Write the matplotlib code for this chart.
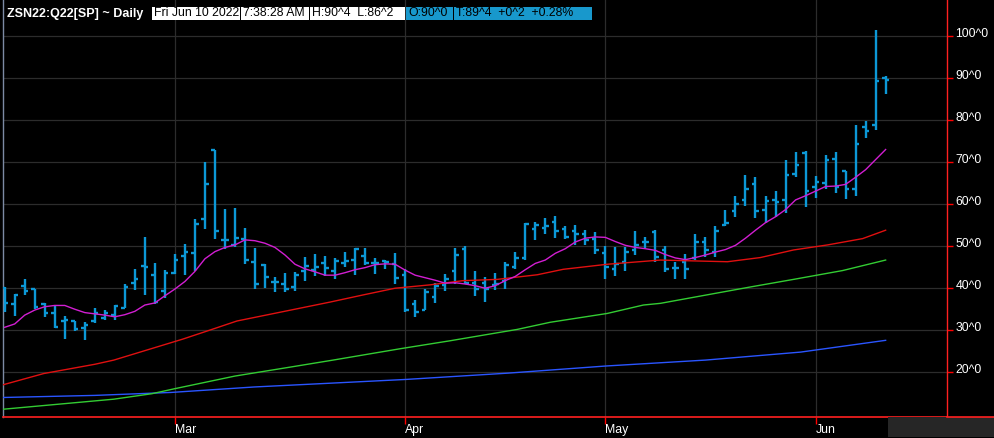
import matplotlib
matplotlib.use('Agg')
import matplotlib.pyplot as plt
import matplotlib.transforms as mtransforms
import numpy as np
import pandas as pd
from matplotlib.patches import Rectangle
from matplotlib.lines import Line2D

# ---------------- data ----------------
holidays = pd.to_datetime(['2022-02-21', '2022-04-15', '2022-05-30'])
dates = pd.bdate_range('2022-02-03', '2022-06-10')
dates = dates[~dates.isin(holidays)]

opens = [40.0, 36.3, 40.5, 39.9, 36.2, 34.0, 32.1, 32.2, 30.6, 32.2,
         32.9, 33.7, 35.4, 41.3, 45.3, 43.1, 39.4, 43.7, 47.7, 48.4,
         56.4, 72.8, 51.5, 50.2, 51.7, 46.2, 45.6, 41.4, 41.0, 40.4,
         44.1, 44.4, 45.9, 44.0, 45.9, 46.7, 47.6, 46.1, 46.4, 45.7,
         43.1, 36.3, 34.9, 37.9, 40.7, 44.2, 49.3, 41.3, 41.3, 40.7,
         41.8, 45.0, 47.1, 54.0, 54.4, 55.8, 54.0, 53.6, 52.9, 51.8,
         48.3, 44.6, 46.2, 49.2, 51.0, 53.4, 49.0, 44.7, 46.3, 47.2,
         51.0, 48.6, 55.0, 58.4, 61.1, 64.9, 58.6, 61.0, 61.0, 67.1,
         72.1, 64.1, 65.0, 70.7, 67.9, 63.7, 78.3, 78.9, 90.0]
highs = [40.2, 38.7, 42.1, 39.9, 36.6, 35.8, 33.3, 32.2, 32.0, 35.2,
         34.9, 36.1, 40.9, 44.5, 52.1, 46.0, 44.3, 48.1, 50.5, 56.4,
         70.0, 72.8, 58.8, 59.0, 54.3, 49.6, 45.7, 42.7, 43.7, 43.9,
         47.5, 48.1, 47.6, 47.1, 48.6, 49.5, 49.5, 47.3, 46.6, 48.3,
         44.5, 37.1, 39.8, 41.3, 43.5, 49.6, 50.0, 44.0, 42.6, 43.6,
         46.2, 48.6, 55.4, 55.7, 56.7, 57.1, 54.8, 55.1, 53.8, 53.3,
         50.0, 49.7, 49.7, 53.7, 52.1, 53.9, 50.1, 46.2, 48.2, 52.9,
         52.1, 54.8, 58.7, 61.9, 66.9, 66.4, 61.9, 63.1, 70.5, 72.4,
         72.6, 66.7, 71.7, 72.4, 68.0, 78.8, 79.9, 101.4, 90.5]
lows = [34.4, 33.4, 38.5, 35.0, 33.2, 30.6, 27.9, 29.9, 27.7, 31.7,
        32.5, 32.4, 35.2, 39.6, 38.3, 36.2, 37.6, 43.3, 43.1, 44.0,
        54.0, 51.8, 49.4, 49.9, 45.7, 39.8, 40.0, 39.2, 39.2, 39.4,
        41.8, 42.9, 42.9, 42.1, 45.1, 43.1, 45.6, 43.3, 44.6, 41.1,
        34.4, 33.2, 34.7, 36.5, 39.4, 41.0, 41.0, 38.2, 36.7, 39.6,
        39.9, 44.6, 46.8, 51.4, 52.9, 52.0, 51.7, 50.4, 50.4, 48.2,
        42.3, 42.9, 44.0, 48.0, 49.5, 46.3, 43.9, 42.2, 42.3, 46.7,
        47.5, 47.5, 54.7, 57.0, 59.6, 56.6, 55.5, 57.0, 57.8, 66.5,
        59.4, 61.5, 63.7, 62.7, 61.3, 62.0, 75.8, 77.7, 86.25]
closes = [36.6, 38.3, 39.3, 35.5, 34.2, 30.8, 32.4, 30.2, 31.2, 34.2,
          34.0, 35.7, 40.2, 42.3, 45.0, 36.8, 43.7, 46.7, 48.7, 55.3,
          64.9, 53.7, 51.5, 51.9, 46.7, 41.0, 42.7, 41.4, 39.8, 43.2,
          45.2, 45.1, 44.9, 46.5, 46.4, 49.3, 45.9, 45.9, 46.3, 42.5,
          34.9, 34.4, 39.1, 40.5, 42.1, 48.0, 41.3, 39.9, 39.9, 40.9,
          45.5, 47.1, 55.2, 55.0, 54.8, 53.6, 52.2, 52.8, 51.5, 49.0,
          45.1, 45.7, 48.5, 50.2, 51.0, 47.5, 44.6, 44.7, 44.6, 51.0,
          49.2, 53.7, 55.6, 60.1, 63.5, 58.3, 60.7, 60.4, 66.9, 69.3,
          63.1, 65.3, 70.6, 64.0, 63.6, 74.4, 77.4, 89.25, 89.5]

# short moving average (magenta), one value per bar
ma_short = [30.7, 31.5, 33.6, 34.8, 35.6, 35.9, 35.9, 35.0, 34.2, 33.9,
            33.6, 33.2, 33.7, 34.5, 36.0, 36.5, 38.2, 39.8, 41.6, 44.0,
            47.0, 48.7, 49.7, 50.3, 51.5, 51.3, 50.7, 49.7, 47.9, 45.7,
            44.6, 43.9, 43.1, 43.1, 43.7, 44.4, 44.9, 45.6, 45.8, 45.7,
            44.3, 43.1, 42.5, 41.9, 41.2, 41.3, 41.0, 40.6, 40.0, 40.6,
            41.8, 42.8, 44.4, 45.9, 46.7, 48.3, 49.4, 51.0, 51.9, 52.2,
            52.1, 51.1, 50.2, 49.7, 49.4, 49.0, 48.0, 47.2, 46.8, 47.3,
            47.9, 48.6, 49.2, 50.2, 51.9, 53.8, 55.6, 57.0, 58.7, 61.0,
            62.0, 63.1, 64.2, 64.3, 64.7, 66.4, 68.2, 70.6, 73.0]

# longer moving averages, read at sampled bar positions
ma_red_idx = [-0.2, 3.9, 9.0, 10.9, 17.8, 20.2, 23.2, 32.5, 35.8, 39.0, 42.5,
              45.8, 49.2, 53.2, 55.8, 60.2, 65.5, 68.8, 72.2, 75.5, 78.8,
              82.2, 85.7, 88.0]
ma_red = [17.0, 19.7, 21.9, 22.9, 27.9, 29.8, 32.2, 36.7, 38.4, 40.0, 40.8,
          41.8, 42.1, 43.2, 44.5, 45.7, 46.7, 46.5, 46.3, 47.3, 49.1,
          50.3, 51.8, 53.8]

ma_green_idx = [-0.2, 10.9, 14.7, 17.0, 23.0, 28.7, 32.8, 39.5, 44.5, 51.2,
                54.5, 60.2, 63.8, 65.5, 74.5, 78.8, 83.7, 88.0]
ma_green = [11.2, 13.6, 14.9, 16.1, 19.1, 21.3, 22.9, 25.6, 27.5, 30.2,
            31.9, 34.0, 36.0, 36.4, 40.3, 42.1, 44.2, 46.7]

ma_blue_idx = [-0.2, 9.0, 16.6, 24.9, 40.1, 50.3, 60.1, 70.0, 79.5, 88.0]
ma_blue = [14.0, 14.5, 15.2, 16.5, 18.3, 19.8, 21.5, 22.9, 24.8, 27.6]

yticks = [20, 30, 40, 50, 60, 70, 80, 90, 100]
ytick_labels = [f"{v}^0" for v in yticks]

title = "ZSN22:Q22[SP] ~ Daily"
info_white = ["Fri Jun 10 2022", "7:38:28 AM", "H:90^4  L:86^2"]
info_blue = ["O:90^0", "T:89^4  +0^2  +0.28%"]

# ---------------- figure ----------------
W, H = 994, 438
fig = plt.figure(figsize=(W / 100, H / 100), dpi=100, facecolor='black')
ax = fig.add_axes([3 / W, (H - 417) / H, (947 - 3) / W, 417 / H])
ax.set_facecolor('black')

x = np.arange(len(dates))
bar_col = '#0c98d6'
lw = 1.7
ax.vlines(x, lows, highs, color=bar_col, lw=lw, capstyle='butt', zorder=3)
ax.hlines(opens, x - 0.36, x, color=bar_col, lw=lw, capstyle='butt', zorder=3)
ax.hlines(closes, x, x + 0.36, color=bar_col, lw=lw, capstyle='butt', zorder=3)

ax.plot(ma_blue_idx, ma_blue, color='#2a55ff', lw=1.0, zorder=4)
ax.plot(ma_green_idx, ma_green, color='#33cc33', lw=1.0, zorder=4)
ax.plot(ma_red_idx, ma_red, color='#e01010', lw=1.0, zorder=4)
ax.plot(x, ma_short, color='#d21ed2', lw=1.0, zorder=5)

ax.set_xlim(-0.17, 94.13)
ax.set_ylim(9.36, 108.57)

# month ticks at first trading day of each month
mstarts = [i for i in range(1, len(dates)) if dates[i].month != dates[i - 1].month]
ax.set_xticks(mstarts)
ax.set_xticklabels([dates[i].strftime('%b') for i in mstarts], ha='left')
ax.yaxis.tick_right()
ax.set_yticks(yticks)
ax.set_yticklabels(ytick_labels)
ax.tick_params(axis='y', colors='red', labelcolor='white', length=4, width=1,
               labelsize=8.8, pad=2)
ax.tick_params(axis='x', colors='red', labelcolor='white', length=5, width=1,
               labelsize=8.8, pad=0)
up = mtransforms.ScaledTranslation(0, 4 / 100, fig.dpi_scale_trans)
for lab in ax.get_yticklabels():
    lab.set_fontfamily('Liberation Sans')
    lab.set_transform(lab.get_transform() + up)
for lab in ax.get_xticklabels():
    lab.set_fontfamily('Liberation Sans')

ax.grid(True, color='#2c2c2c', lw=0.9, zorder=0)
ax.set_axisbelow(True)
ax.spines['top'].set_visible(False)
ax.spines['bottom'].set_color('#ff2020')
ax.spines['bottom'].set_linewidth(1.2)
ax.spines['right'].set_color('#ff2020')
ax.spines['right'].set_linewidth(1.0)
ax.spines['left'].set_color('#7c8aa4')
ax.spines['left'].set_linewidth(1.0)

# bottom line continues to the right edge, grey box bottom-right
fig.add_artist(Line2D([947 / W, 1.0], [(H - 417) / H] * 2, color='#ff2020',
                      lw=1.2, transform=fig.transFigure))
fig.add_artist(Rectangle((888 / W, 1 / H), (W - 888) / W, 20 / H,
                         facecolor='#262626', edgecolor='none',
                         transform=fig.transFigure))

# header
def fx(px):
    return px / W

def fy(py):
    return 1 - py / H

fig.text(fx(7), fy(13.5), title, color='white', fontsize=9.0, fontweight='bold',
         family='Liberation Sans', va='center', ha='left')
white_boxes = [(152, 88), (241, 68), (310, 95)]
blue_boxes = [(406, 47), (454, 138)]
for (bx, bw), s in zip(white_boxes, info_white):
    fig.add_artist(Rectangle((fx(bx), fy(19.5)), bw / W, 12.5 / H,
                             facecolor='white', edgecolor='none',
                             transform=fig.transFigure))
    fig.text(fx(bx + 2), fy(13.5), s, color='black', fontsize=8.8,
             family='Liberation Sans', va='center', ha='left')
for (bx, bw), s in zip(blue_boxes, info_blue):
    fig.add_artist(Rectangle((fx(bx), fy(19.5)), bw / W, 12.5 / H,
                             facecolor='#1898cc', edgecolor='none',
                             transform=fig.transFigure))
    fig.text(fx(bx + 2), fy(13.5), s, color='black', fontsize=8.8,
             family='Liberation Sans', va='center', ha='left')

fig.savefig('out.png', dpi=100, facecolor='black')
